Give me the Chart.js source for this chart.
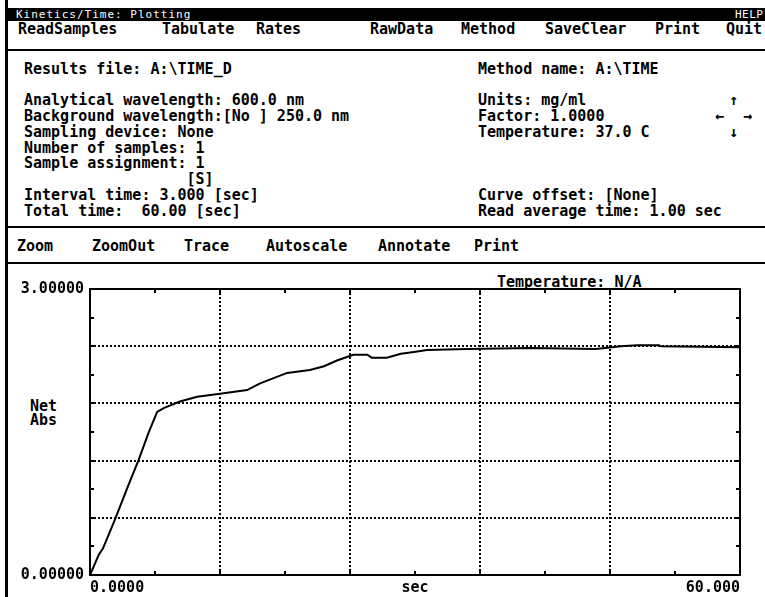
<!DOCTYPE html>
<html>
<head>
<meta charset="utf-8">
<script src="https://cdn.jsdelivr.net/npm/chart.js@4.4.0/dist/chart.umd.min.js"></script>
<style>
  html, body { margin: 0; padding: 0; background: #fff; }
  #screen { position: relative; width: 765px; height: 597px; overflow: hidden; background: #fff;
            font-family: "DejaVu Sans Mono", "Liberation Mono", monospace; font-weight: bold; color: #000; }
  .t { position: absolute; white-space: pre; font-size: 15px; line-height: 14px; }
  .bar { position: absolute; background: #000; }
  #chartBox { position: absolute; left: 0; top: 264px; width: 765px; height: 333px; }
</style>
</head>
<body>
<div id="screen">
  <div class="bar" style="left:5px;top:0;width:3px;height:597px;"></div>
  <div class="bar" style="left:8px;top:8px;width:757px;height:13px;"></div>
  <div class="t" style="left:16px;top:9px;font-size:11px;line-height:12px;letter-spacing:1px;color:#fff;font-weight:normal;">Kinetics/Time: Plotting</div>
  <div class="t" style="left:735px;top:9px;font-size:11px;line-height:12px;letter-spacing:0.5px;color:#fff;font-weight:normal;">HELP</div>
  <div class="bar" style="left:8px;top:49px;width:757px;height:2px;"></div>
  <div class="bar" style="left:8px;top:226px;width:757px;height:2px;"></div>
  <div class="bar" style="left:8px;top:262px;width:757px;height:2px;"></div>
  <div class="t" style="left:497px;top:275px;">Temperature: N/A</div>
  <div class="t" style="left:30px;top:399px;line-height:14px;">Net
Abs</div>
  <div id="chartBox"><canvas id="c" width="765" height="333"></canvas></div>
</div>
<script>
// ---- data ----
const timeSec = [0, 0.8, 1.2, 2.3, 3.5, 4.5, 5.4, 6.2, 6.8, 8.3, 9.9, 12.0, 14.5, 15.7, 18.2, 20.3, 21.6, 22.8,
                 24.3, 25.6, 26.0, 27.4, 28.7, 29.9, 31.1, 34.8, 40.7, 46.7, 49.0, 50.5, 52.5, 52.7, 60.0];
const netAbs  = [0.00, 0.21, 0.28, 0.58, 0.93, 1.21, 1.49, 1.71, 1.75, 1.82, 1.87, 1.90, 1.94, 2.01, 2.12, 2.15, 2.19, 2.25,
                 2.31, 2.31, 2.28, 2.28, 2.32, 2.34, 2.36, 2.37, 2.38, 2.37, 2.40, 2.41, 2.41, 2.40, 2.39];
const xTickLabels = { 0: '0.0000', 30: 'sec', 60: '60.000' };
const yTickLabels = { 0: '0.00000', 3: '3.00000' };
const topMenu = ['ReadSamples', 'Tabulate', 'Rates', 'RawData', 'Method', 'SaveClear', 'Print', 'Quit'];
const plotMenu = ['Zoom', 'ZoomOut', 'Trace', 'Autoscale', 'Annotate', 'Print'];
const leftInfo = [
  'Results file: A:\\TIME_D', '',
  'Analytical wavelength: 600.0 nm',
  'Background wavelength:[No ] 250.0 nm',
  'Sampling device: None',
  'Number of samples: 1',
  'Sample assignment: 1',
  '                  [S]',
  'Interval time: 3.000 [sec]',
  'Total time:  60.00 [sec]'
];
const rightInfo = [
  'Method name: A:\\TIME', '',
  'Units: mg/ml',
  'Factor: 1.0000',
  'Temperature: 37.0 C',
  '', '', '',
  'Curve offset: [None]',
  'Read average time: 1.00 sec'
];

// ---- layout of the text screen ----
function put(parent, x, cy, text, extra) {
  const d = document.createElement('div');
  d.className = 't';
  d.style.left = x + 'px';
  d.style.top = (cy - 7) + 'px';
  if (extra) Object.assign(d.style, extra);
  d.textContent = text;
  parent.appendChild(d);
}
const scr = document.getElementById('screen');
const m1x = [18, 162, 256, 370, 461, 545, 655, 726];
topMenu.forEach((s, i) => put(scr, m1x[i], 29, s));
const m2x = [17, 92, 184, 266, 378, 474];
plotMenu.forEach((s, i) => put(scr, m2x[i], 246, s));
const rowY = [69, 84, 100, 116, 132, 148, 163, 179, 195, 211];
leftInfo.forEach((s, i) => { if (s) put(scr, 24, rowY[i], s); });
rightInfo.forEach((s, i) => { if (s) put(scr, 478, rowY[i], s); });
put(scr, 729, 100, '\u2191');
put(scr, 715, 116, '\u2190');
put(scr, 743, 116, '\u2192');
put(scr, 729, 132, '\u2193');

// ---- chart ----
const frame = {
  id: 'frame',
  beforeDatasetsDraw(chart) {
    const { ctx, chartArea: a, scales: { x, y } } = chart;
    ctx.save();
    ctx.strokeStyle = '#000';
    ctx.fillStyle = '#000';
    // dotted grid
    for (let v = 12; v < 60; v += 12) {
      const px = Math.round(x.getPixelForValue(v));
      for (let py = a.top; py < a.bottom; py += 4) ctx.fillRect(px - 1, py, 2, 2);
    }
    for (let v = 0.6; v < 2.99; v += 0.6) {
      const py = Math.round(y.getPixelForValue(v));
      for (let px = a.left; px < a.right; px += 4) ctx.fillRect(px, py - 1, 2, 2);
    }
    // inward ticks
    for (let v = 6; v < 60; v += 6) {
      const px = Math.round(x.getPixelForValue(v));
      ctx.fillRect(px - 1, a.top, 2, 4);
      ctx.fillRect(px - 1, a.bottom - 4, 2, 4);
    }
    for (let v = 0.3; v < 2.99; v += 0.3) {
      const py = Math.round(y.getPixelForValue(v));
      ctx.fillRect(a.left, py - 1, 4, 2);
      ctx.fillRect(a.right - 4, py - 1, 4, 2);
    }
    ctx.lineWidth = 2;
    ctx.strokeRect(a.left, a.top, a.right - a.left, a.bottom - a.top);
    ctx.restore();
  }
};

new Chart(document.getElementById('c'), {
  type: 'line',
  data: {
    datasets: [{
      data: timeSec.map((t, i) => ({ x: t, y: netAbs[i] })),
      borderColor: '#000',
      borderWidth: 2,
      pointRadius: 0,
      tension: 0,
      fill: false
    }]
  },
  options: {
    responsive: false,
    animation: false,
    events: [],
    layout: { padding: { left: 0, right: 25, top: 25, bottom: 0 } },
    plugins: { legend: { display: false }, tooltip: { enabled: false }, title: { display: false } },
    scales: {
      x: {
        type: 'linear', min: 0, max: 60,
        grid: { display: false, drawTicks: false },
        border: { display: false },
        ticks: {
          stepSize: 6, autoSkip: false, maxRotation: 0, align: 'inner', padding: 4,
          color: '#000',
          font: { family: 'DejaVu Sans Mono', size: 15, weight: 'bold' },
          callback: (v) => xTickLabels[v] !== undefined ? xTickLabels[v] : ''
        },
        afterFit(s) { s.height = 22; }
      },
      y: {
        type: 'linear', min: 0, max: 3,
        grid: { display: false, drawTicks: false },
        border: { display: false },
        ticks: {
          stepSize: 0.3, autoSkip: false, padding: 6,
          color: '#000',
          font: { family: 'DejaVu Sans Mono', size: 15, weight: 'bold' },
          callback: (v) => {
            const r = Math.round(v * 10) / 10;
            return yTickLabels[r] !== undefined && Math.abs(v - r) < 1e-6 ? yTickLabels[r] : '';
          }
        },
        afterFit(s) { s.width = 90; }
      }
    }
  },
  plugins: [frame]
});
</script>
</body>
</html>
